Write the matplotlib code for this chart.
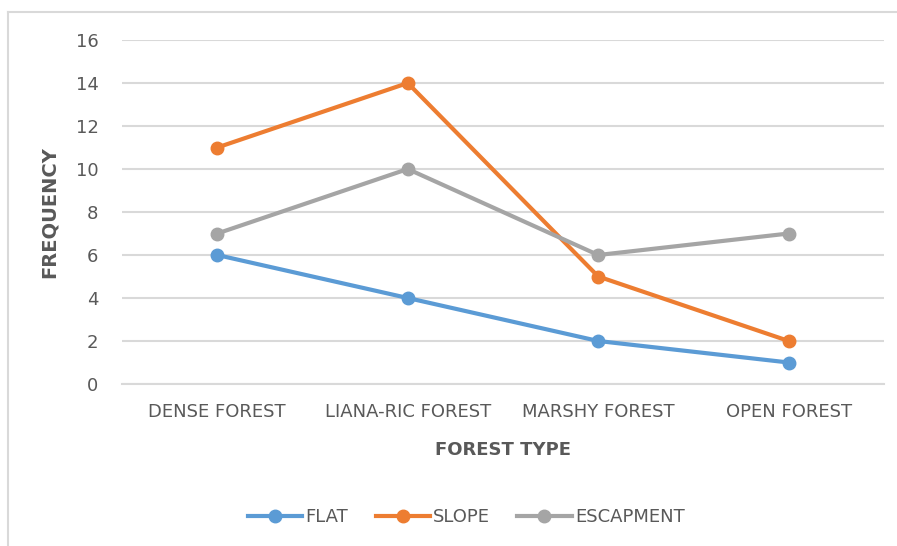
import matplotlib.pyplot as plt
from matplotlib.lines import Line2D

categories = ['DENSE FOREST', 'LIANA-RIC FOREST', 'MARSHY FOREST', 'OPEN FOREST']
flat = [6, 4, 2, 1]
slope = [11, 14, 5, 2]
escapment = [7, 10, 6, 7]

plt.rcParams['font.family'] = ['DejaVu Sans']
txt = '#595959'
grid = '#d9d9d9'

fig = plt.figure(figsize=(8.97, 5.46), dpi=100)
ax = fig.add_axes([0.136, 0.2967, 0.8495, 0.63])

x = range(len(categories))
ax.plot(x, flat, color='#5B9BD5', lw=3, marker='o', ms=9, label='FLAT', zorder=3)
ax.plot(x, slope, color='#ED7D31', lw=3, marker='o', ms=9, label='SLOPE', zorder=3)
ax.plot(x, escapment, color='#A5A5A5', lw=3, marker='o', ms=9, label='ESCAPMENT', zorder=3)

ax.set_xlim(-0.5, len(categories) - 0.5)
ax.set_ylim(0, 16)
ax.set_yticks(range(0, 17, 2))
ax.set_xticks(list(x))
ax.set_xticklabels(categories)
ax.tick_params(length=0, labelsize=13, colors=txt)
ax.tick_params(axis='x', pad=14)
ax.tick_params(axis='y', pad=17)
ax.grid(axis='y', color=grid, lw=1.5)
ax.set_axisbelow(True)
for s in ['top', 'right', 'left']:
    ax.spines[s].set_visible(False)
ax.spines['bottom'].set_color(grid)
ax.spines['bottom'].set_linewidth(1.5)

ax.set_xlabel('FOREST TYPE', fontsize=13, fontweight='bold', color=txt, labelpad=14)
ax.set_ylabel('FREQUENCY', fontsize=14, fontweight='bold', color=txt, labelpad=12)

fig.legend(loc='center', bbox_to_anchor=(0.52, 0.053), ncol=3, frameon=False,
           fontsize=13, labelcolor=txt, handlelength=3, columnspacing=1.5, handletextpad=0.2)

# chart frame (top and left edges)
fig.add_artist(Line2D([0.009, 1.0], [0.978, 0.978], color=grid, lw=1.5, transform=fig.transFigure))
fig.add_artist(Line2D([0.009, 0.009], [0.0, 0.978], color=grid, lw=1.5, transform=fig.transFigure))

fig.savefig('out.png', dpi=100)
